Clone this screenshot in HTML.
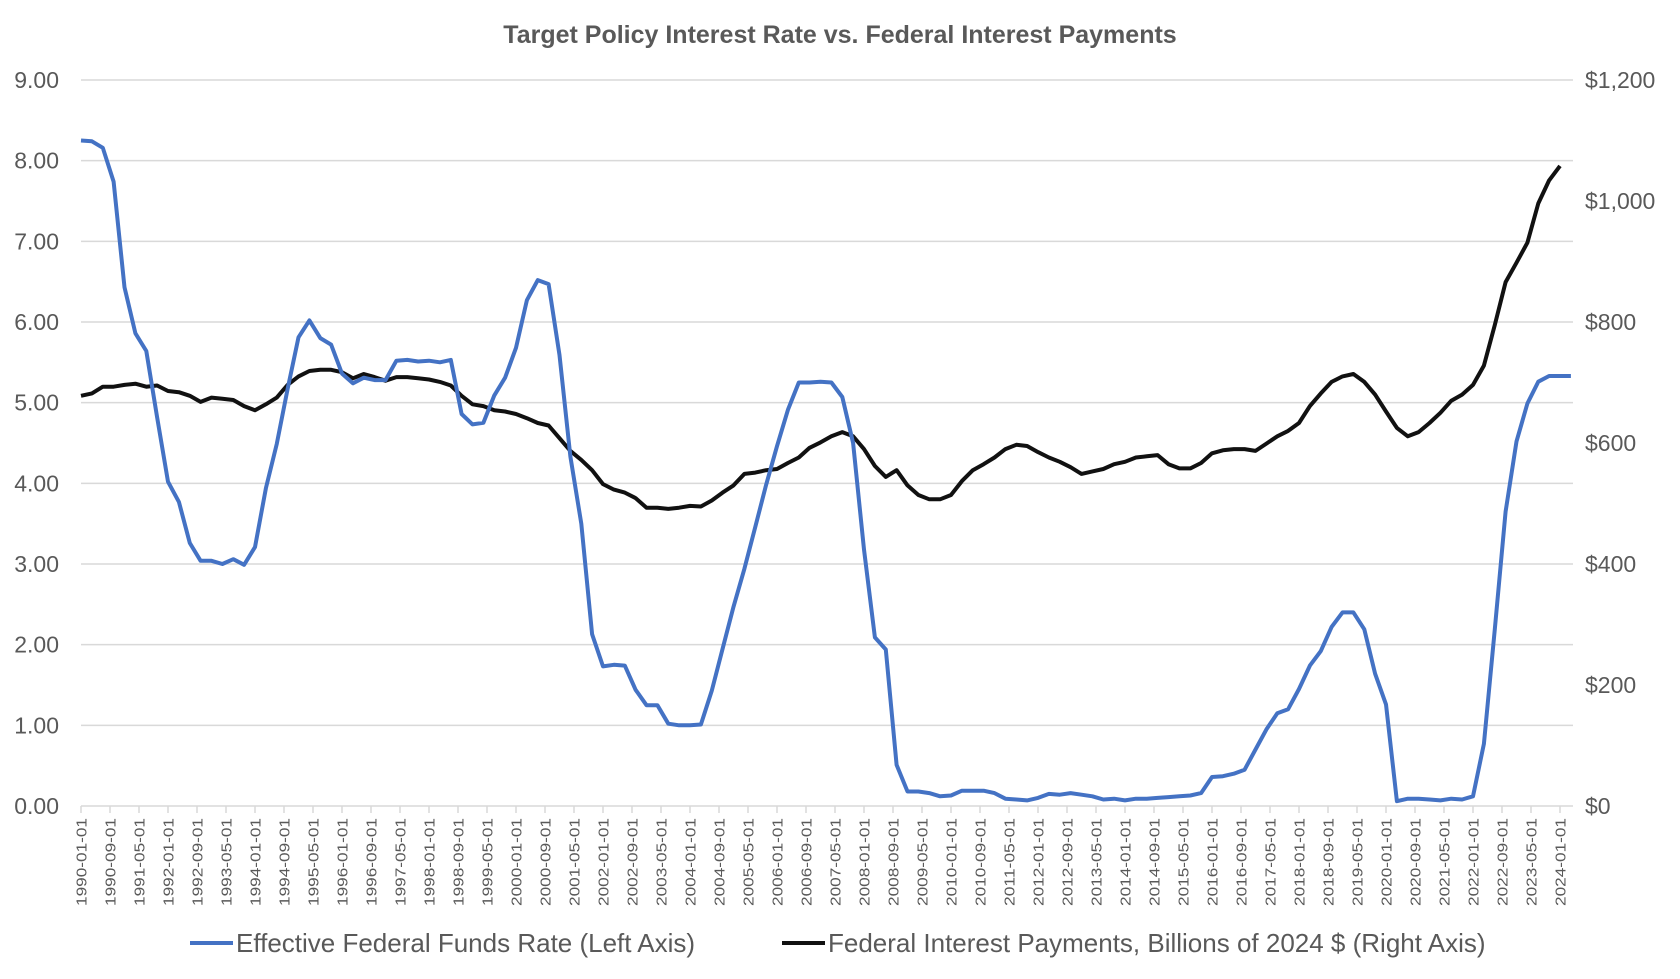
<!DOCTYPE html>
<html><head><meta charset="utf-8"><style>
html,body{margin:0;padding:0;background:#fff;}
svg{display:block;font-family:"Liberation Sans",sans-serif;}
</style></head><body>
<svg id="c" width="1680" height="979" xmlns="http://www.w3.org/2000/svg">
<text x="840" y="43" text-anchor="middle" font-size="25" font-weight="bold" fill="#595959">Target Policy Interest Rate vs. Federal Interest Payments</text>
<g id="grid"></g>
<g id="ticks"></g>
<polyline id="blk" fill="none" stroke="#111" stroke-width="4" stroke-linejoin="round"/>
<polyline id="blu" fill="none" stroke="#4472C4" stroke-width="4" stroke-linejoin="round"/>
<line x1="190" y1="943" x2="233" y2="943" stroke="#4472C4" stroke-width="4"/>
<text x="236" y="952" font-size="26" fill="#595959">Effective Federal Funds Rate (Left Axis)</text>
<line x1="782" y1="943" x2="825" y2="943" stroke="#111" stroke-width="4"/>
<text x="828" y="952" font-size="26" fill="#595959">Federal Interest Payments, Billions of 2024 $ (Right Axis)</text>
</svg>
<script>
var NS="http://www.w3.org/2000/svg";
function el(p,t,a,txt){var e=document.createElementNS(NS,t);for(var k in a)e.setAttribute(k,a[k]);if(txt!==undefined)e.textContent=txt;p.appendChild(e);return e;}
var g=document.getElementById('grid'),tk=document.getElementById('ticks');
var y0=806,pu=80.667,L=81,R=1573;
for(var i=0;i<=9;i++){var y=y0-i*pu;
 el(g,'line',{x1:L,x2:R,y1:y,y2:y,stroke:'#d9d9d9','stroke-width':1.5});
 el(g,'text',{x:59,y:y+8,'text-anchor':'end','font-size':23,fill:'#595959'},i.toFixed(2));}
for(var j=0;j<=6;j++){var y=y0-j*200*0.605;
 var s='$'+(j*200).toLocaleString('en-US');
 el(g,'text',{x:1585,y:y+8,'font-size':23,fill:'#595959'},s);}
var dx=10.875;
for(var m=0;m<=51;m++){var x=L+m*dx*8/3;
 el(tk,'line',{x1:x,x2:x,y1:y0,y2:y0+7,stroke:'#d9d9d9','stroke-width':1.5});
 var mo=m*8,yr=1990+Math.floor(mo/12),mm=mo%12+1;
 var lab=yr+'-'+(mm<10?'0':'')+mm+'-01';
 el(tk,'text',{transform:'translate('+(x+5.5)+','+(y0+12)+') rotate(-90)','text-anchor':'end','font-size':15,'textLength':88,'lengthAdjust':'spacingAndGlyphs',fill:'#595959'},lab);}
var ff=[8.25,8.24,8.16,7.74,6.43,5.86,5.64,4.82,4.02,3.77,3.26,3.04,3.04,3.00,3.06,2.99,3.21,3.94,4.49,5.17,5.81,6.02,5.80,5.72,5.36,5.24,5.31,5.28,5.28,5.52,5.53,5.51,5.52,5.50,5.53,4.86,4.73,4.75,5.09,5.31,5.68,6.27,6.52,6.47,5.59,4.33,3.50,2.13,1.73,1.75,1.74,1.44,1.25,1.25,1.02,1.00,1.00,1.01,1.43,1.95,2.47,2.94,3.46,3.98,4.46,4.91,5.25,5.25,5.26,5.25,5.07,4.50,3.18,2.09,1.94,0.51,0.18,0.18,0.16,0.12,0.13,0.19,0.19,0.19,0.16,0.09,0.08,0.07,0.10,0.15,0.14,0.16,0.14,0.12,0.08,0.09,0.07,0.09,0.09,0.10,0.11,0.12,0.13,0.16,0.36,0.37,0.40,0.45,0.70,0.95,1.15,1.20,1.45,1.74,1.92,2.22,2.40,2.40,2.19,1.64,1.26,0.06,0.09,0.09,0.08,0.07,0.09,0.08,0.12,0.77,2.19,3.65,4.52,4.99,5.26,5.33,5.33,5.33];
var ip=[678,682,693,693,696,698,693,695,686,684,678,668,675,673,671,661,654,664,675,696,710,719,721,721,717,707,714,709,703,709,709,707,705,701,695,678,664,661,654,652,648,641,633,629,608,587,572,555,532,523,518,509,493,493,491,493,496,495,505,518,530,549,551,555,557,567,576,592,601,611,618,611,590,562,544,555,530,514,507,507,514,537,555,565,576,590,597,595,585,576,569,560,549,553,557,565,569,576,578,580,565,558,558,567,583,588,590,590,587,599,611,620,633,661,682,701,710,714,701,680,652,625,611,618,633,650,670,680,696,728,795,866,898,931,996,1034,1058];
document.getElementById('blu').setAttribute('points',ff.map(function(v,i){return (L+i*dx).toFixed(1)+','+(y0-v*pu).toFixed(1);}).join(' '));
document.getElementById('blk').setAttribute('points',ip.map(function(v,i){return (L+i*dx).toFixed(1)+','+(y0-v*0.605).toFixed(1);}).join(' '));
</script>
</body></html>
